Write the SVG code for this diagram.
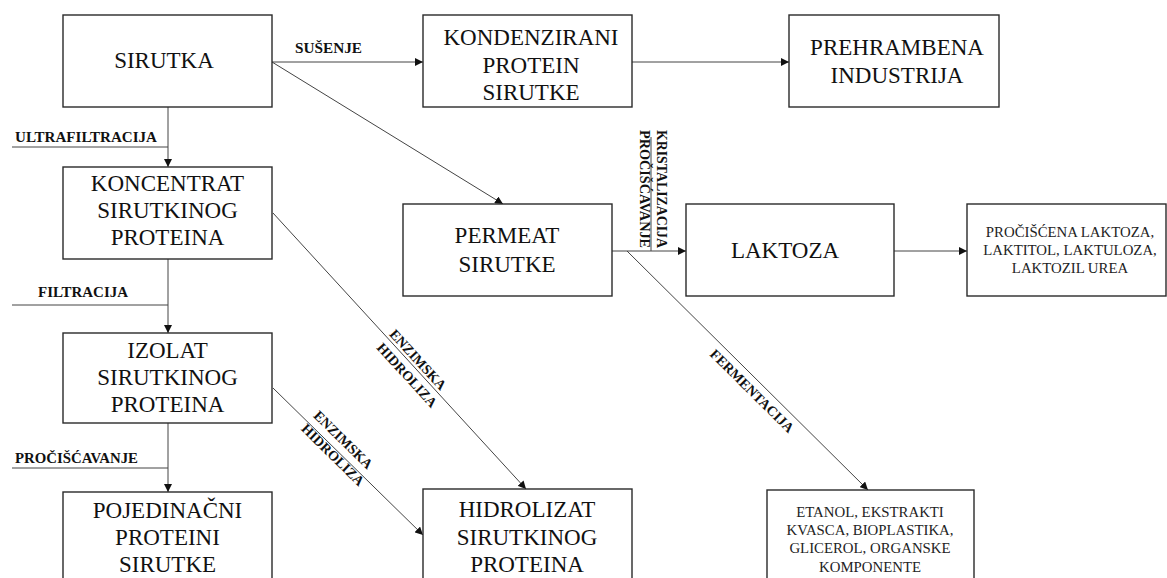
<svg xmlns="http://www.w3.org/2000/svg" width="1167" height="578" viewBox="0 0 1167 578">
<defs>
<style>
.box{fill:#fff;stroke:#2a2a2a;stroke-width:1.4}
.t{font-family:"Liberation Serif","Times New Roman",serif;font-size:23px;fill:#111;text-anchor:middle}
.s{font-family:"Liberation Serif","Times New Roman",serif;font-size:14.8px;fill:#222;text-anchor:middle}
.lbl{font-family:"Liberation Serif","Times New Roman",serif;font-size:14px;font-weight:bold;fill:#111}
.c{fill:none;stroke:#444;stroke-width:1}
</style>
<marker id="ah" viewBox="0 0 10 10" refX="10" refY="5" markerWidth="8" markerHeight="8" markerUnits="userSpaceOnUse" orient="auto">
<path d="M0,0 L10,5 L0,10 z" fill="#111"/>
</marker>
</defs>
<rect width="1167" height="578" fill="#fff"/>

<g id="connectors">
<line class="c" x1="272" y1="62" x2="423" y2="62" marker-end="url(#ah)"/>
<line class="c" x1="632" y1="62" x2="789" y2="62" marker-end="url(#ah)"/>
<line class="c" x1="272" y1="62" x2="503" y2="204" marker-end="url(#ah)"/>
<line class="c" x1="168" y1="107" x2="168" y2="167" marker-end="url(#ah)"/>
<line class="c" x1="168" y1="259" x2="168" y2="333" marker-end="url(#ah)"/>
<line class="c" x1="168" y1="423" x2="168" y2="492" marker-end="url(#ah)"/>
<line class="c" x1="273" y1="213" x2="526" y2="489" marker-end="url(#ah)"/>
<line class="c" x1="273" y1="388" x2="423" y2="535" marker-end="url(#ah)"/>
<line class="c" x1="612" y1="251" x2="686" y2="251" marker-end="url(#ah)"/>
<line class="c" x1="894" y1="251" x2="967" y2="251" marker-end="url(#ah)"/>
<line class="c" x1="627" y1="251" x2="868" y2="490" marker-end="url(#ah)"/>
<line class="c" x1="12" y1="147" x2="168" y2="147"/>
<line class="c" x1="12" y1="305" x2="168" y2="305"/>
<line class="c" x1="12" y1="468" x2="168" y2="468"/>
<line class="c" x1="651" y1="137" x2="651" y2="251"/>
<text class="lbl" x="295" y="53" textLength="67" lengthAdjust="spacingAndGlyphs">SUŠENJE</text>
<text class="lbl" x="15" y="142" textLength="142" lengthAdjust="spacingAndGlyphs">ULTRAFILTRACIJA</text>
<text class="lbl" x="38" y="297" textLength="90" lengthAdjust="spacingAndGlyphs">FILTRACIJA</text>
<text class="lbl" x="15" y="463" textLength="123" lengthAdjust="spacingAndGlyphs">PROČIŠĆAVANJE</text>
<g transform="translate(657,189) rotate(90)">
<text class="lbl" x="-59" y="0" textLength="118" lengthAdjust="spacingAndGlyphs">KRISTALIZACIJA</text>
<text class="lbl" x="-59" y="17" textLength="118" lengthAdjust="spacingAndGlyphs">PROČIŠĆAVANJE</text>
</g>
<g transform="translate(413.6,366.3) rotate(47.5)">
<text class="lbl" x="-2" y="-3" text-anchor="middle">ENZIMSKA</text>
<text class="lbl" x="2" y="15.5" text-anchor="middle">HIDROLIZA</text>
</g>
<g transform="translate(336.2,450) rotate(44.4)">
<text class="lbl" x="-2" y="-7.5" text-anchor="middle">ENZIMSKA</text>
<text class="lbl" x="1" y="10.5" text-anchor="middle">HIDROLIZA</text>
</g>
<g transform="translate(760,382.9) rotate(44.8)">
<text class="lbl" x="0" y="16" text-anchor="middle">FERMENTACIJA</text>
</g>
</g>

<g id="sirutka">
<rect class="box" x="63" y="15" width="209" height="92"/>
<text class="t" x="164" y="68">SIRUTKA</text>
</g>
<g id="kondenzirani">
<rect class="box" x="423" y="15" width="209" height="92"/>
<text class="t" x="531" y="45">KONDENZIRANI</text>
<text class="t" x="531" y="73">PROTEIN</text>
<text class="t" x="531" y="100">SIRUTKE</text>
</g>
<g id="prehrambena">
<rect class="box" x="789" y="15" width="210" height="92"/>
<text class="t" x="897" y="55">PREHRAMBENA</text>
<text class="t" x="897" y="83">INDUSTRIJA</text>
</g>
<g id="koncentrat">
<rect class="box" x="63" y="167" width="209" height="92"/>
<text class="t" x="167.5" y="191">KONCENTRAT</text>
<text class="t" x="167.5" y="218">SIRUTKINOG</text>
<text class="t" x="167.5" y="245">PROTEINA</text>
</g>
<g id="izolat">
<rect class="box" x="63" y="333" width="209" height="90"/>
<text class="t" x="167.5" y="358">IZOLAT</text>
<text class="t" x="167.5" y="385">SIRUTKINOG</text>
<text class="t" x="167.5" y="412">PROTEINA</text>
</g>
<g id="pojedinacni">
<rect class="box" x="63" y="492" width="209" height="110"/>
<text class="t" x="167.5" y="518">POJEDINAČNI</text>
<text class="t" x="167.5" y="545">PROTEINI</text>
<text class="t" x="167.5" y="572">SIRUTKE</text>
</g>
<g id="permeat">
<rect class="box" x="403" y="204" width="209" height="92"/>
<text class="t" x="507" y="243">PERMEAT</text>
<text class="t" x="507" y="272">SIRUTKE</text>
</g>
<g id="laktoza">
<rect class="box" x="686" y="204" width="208" height="92"/>
<text class="t" x="785" y="258">LAKTOZA</text>
</g>
<g id="procistena">
<rect class="box" x="967" y="204" width="199" height="92"/>
<text class="s" x="1070" y="237">PROČIŠĆENA LAKTOZA,</text>
<text class="s" x="1070" y="255">LAKTITOL, LAKTULOZA,</text>
<text class="s" x="1070" y="273">LAKTOZIL UREA</text>
</g>
<g id="hidrolizat">
<rect class="box" x="423" y="489" width="209" height="110"/>
<text class="t" x="527" y="517">HIDROLIZAT</text>
<text class="t" x="527" y="545">SIRUTKINOG</text>
<text class="t" x="527" y="572">PROTEINA</text>
</g>
<g id="etanol">
<rect class="box" x="767" y="490" width="207" height="110"/>
<text class="s" x="870" y="517">ETANOL, EKSTRAKTI</text>
<text class="s" x="870" y="535">KVASCA, BIOPLASTIKA,</text>
<text class="s" x="870" y="553">GLICEROL, ORGANSKE</text>
<text class="s" x="870" y="572">KOMPONENTE</text>
</g>
</svg>
